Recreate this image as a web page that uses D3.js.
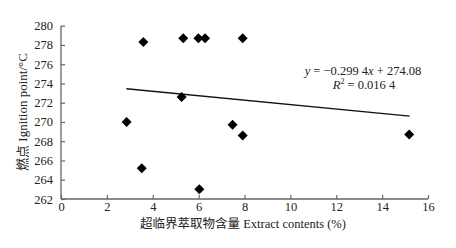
<!DOCTYPE html>
<html><head><meta charset="utf-8">
<script src="https://cdn.jsdelivr.net/npm/d3@7"></script>
<style>
html,body{margin:0;padding:0;background:#fff;}
svg{display:block;font-family:"Liberation Serif","Noto Sans CJK SC",serif;}
</style></head>
<body>
<svg id="c" width="456" height="248"></svg>
<script>
const extractX = [3.59, 2.86, 3.52, 5.33, 5.99, 6.28, 7.92, 5.26, 7.48, 7.92, 15.18, 6.03];
const ignitionY = [278.3, 270.0, 265.2, 278.7, 278.7, 278.7, 278.7, 272.6, 269.7, 268.6, 268.7, 263.0];
const fitX = [2.85, 15.2];
const fitY = [273.45, 270.6];
const xTicks = [0, 2, 4, 6, 8, 10, 12, 14, 16];
const yTicks = [262, 264, 266, 268, 270, 272, 274, 276, 278, 280];

const svg = d3.select("#c");
const x = d3.scaleLinear().domain([0, 16]).range([61, 428]);
const y = d3.scaleLinear().domain([262, 280]).range([199, 25.7]);
const axisColor = "#666";

// y axis
const ya = svg.append("g").attr("transform", "translate(61,0)")
  .call(d3.axisLeft(y).tickValues(yTicks).tickSize(-4).tickPadding(8).tickFormat(d3.format("d")));
// x axis
const xa = svg.append("g").attr("transform", "translate(0,199)")
  .call(d3.axisBottom(x).tickValues(xTicks).tickSize(-4).tickPadding(3).tickFormat(d3.format("d")));
[ya, xa].forEach(g => {
  g.select(".domain").attr("stroke", axisColor).attr("stroke-width", 1.3);
  g.selectAll(".tick line").attr("stroke", axisColor).attr("stroke-width", 1.2);
  g.selectAll(".tick text").attr("fill", "#222").attr("font-size", 12.5)
    .attr("font-family", "Liberation Serif, serif");
});
ya.select(".domain").attr("d", `M0,${y(280)}V${y(262)}`);
xa.select(".domain").attr("d", `M${x(0)},0H${x(16)}`);

// fit line
svg.append("line")
  .attr("x1", x(fitX[0])).attr("y1", y(fitY[0]))
  .attr("x2", x(fitX[1])).attr("y2", y(fitY[1]))
  .attr("stroke", "#111").attr("stroke-width", 1.3);

// points
const sym = d3.symbol().type(d3.symbolSquare).size(50);
svg.append("g").selectAll("path").data(extractX).join("path")
  .attr("d", sym())
  .attr("transform", (d, i) => `translate(${x(d)},${y(ignitionY[i])}) rotate(45)`)
  .attr("fill", "#000");

// equation
const eq = svg.append("text").attr("x", 363).attr("y", 75).attr("text-anchor", "middle")
  .attr("font-size", 12.5).attr("fill", "#222");
eq.append("tspan").attr("font-style", "italic").text("y");
eq.append("tspan").text(" = −0.299 4");
eq.append("tspan").attr("font-style", "italic").text("x");
eq.append("tspan").text(" + 274.08");
const r2 = svg.append("text").attr("x", 364).attr("y", 89).attr("text-anchor", "middle")
  .attr("font-size", 12.5).attr("fill", "#222");
r2.append("tspan").attr("font-style", "italic").text("R");
r2.append("tspan").attr("font-size", 8).attr("dy", -5).text("2");
r2.append("tspan").attr("dy", 5).text(" = 0.016 4");

// axis titles
svg.append("text").attr("x", 243).attr("y", 228).attr("text-anchor", "middle")
  .attr("font-size", 12.5).attr("fill", "#222")
  .text("超临界萃取物含量 Extract contents (%)");
svg.append("text").attr("transform", "translate(27,112) rotate(-90)").attr("text-anchor", "middle")
  .attr("font-size", 13).attr("fill", "#222")
  .text("燃点 Ignition point/°C");
</script>
</body></html>
